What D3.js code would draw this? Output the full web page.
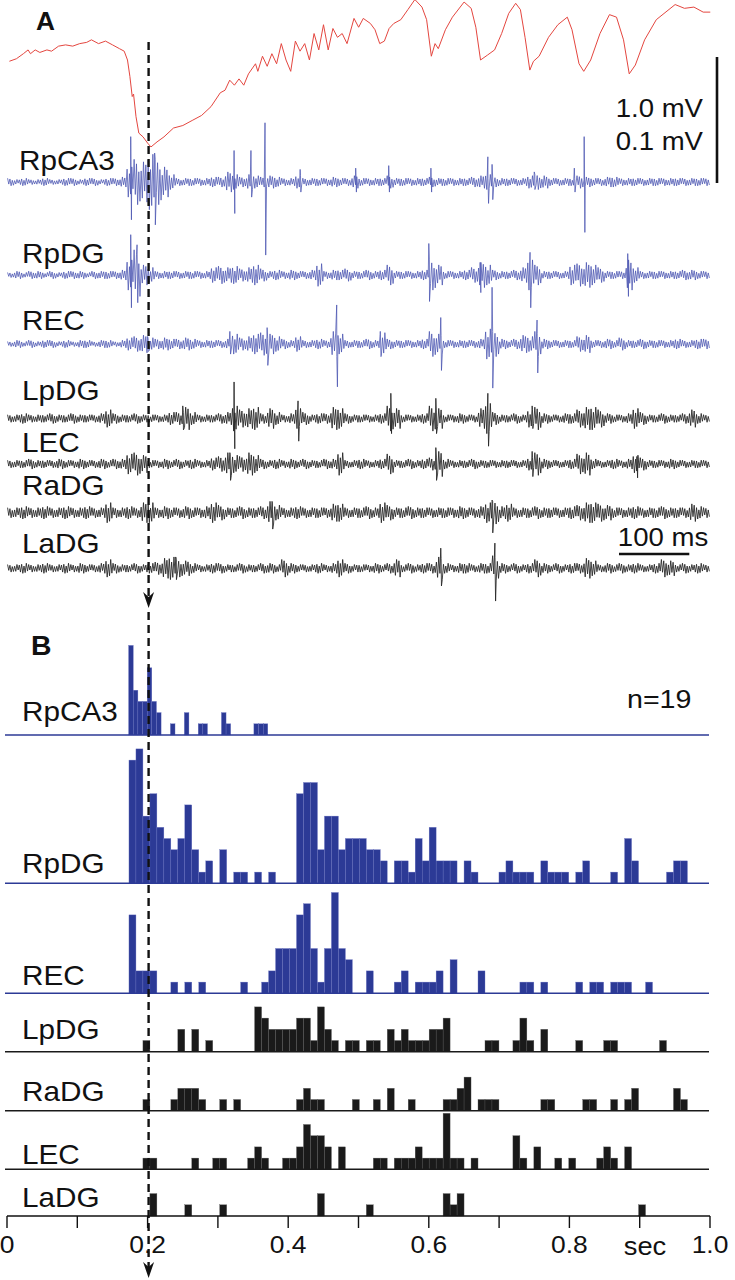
<!DOCTYPE html>
<html>
<head>
<meta charset="utf-8">
<script src="https://cdn.jsdelivr.net/npm/d3@7"></script>
<style>
  body { margin: 0; background: #fff; }
  text { font-family: "Liberation Sans", Arial, sans-serif; fill: #111; }
</style>
</head>
<body>
<svg id="fig" width="735" height="1280"></svg>
<script>
// ---- Panel A: intracellular trace (time ms, mV) ----
const redTrace = [
  [3.4,-0.01],[13.4,0.01],[23.3,0.05],[30.0,0.08],[33.4,0.05],[40.1,0.08],[46.7,0.06],[56.8,0.08],
  [63.4,0.07],[73.4,0.11],[83.4,0.12],[93.5,0.11],[103.4,0.13],[113.4,0.14],[120.1,0.16],[130.2,0.13],
  [140.1,0.15],[150.1,0.12],[160.0,0.09],[166.7,0.07],[171.4,0.00],[174.8,-0.13],[178.1,-0.29],[180.0,-0.27],
  [183.5,-0.45],[187.5,-0.58],[193.5,-0.61],[200.1,-0.66],[204.8,-0.69],[213.4,-0.65],[223.3,-0.61],[236.8,-0.54],
  [250.1,-0.52],[263.4,-0.48],[276.8,-0.44],[290.2,-0.37],[303.4,-0.26],[310.1,-0.24],[316.8,-0.16],[323.5,-0.20],
  [330.0,-0.15],[336.8,-0.20],[343.5,-0.11],[353.5,-0.03],[356.8,-0.09],[363.4,0.03],[370.1,-0.05],[376.8,0.05],
  [383.5,-0.03],[390.2,0.13],[396.9,0.00],[403.6,-0.09],[410.2,0.15],[416.8,0.07],[423.5,0.13],[430.2,0.00],
  [436.8,0.21],[443.5,0.08],[450.2,0.28],[456.9,0.08],[463.6,0.25],[470.1,0.18],[476.8,0.21],[483.7,0.13],
  [493.6,0.33],[500.2,0.26],[506.8,0.33],[516.9,0.29],[523.5,0.24],[530.2,0.13],[536.8,0.15],[543.5,0.25],
  [550.2,0.29],[560.2,0.32],[570.3,0.40],[580.2,0.48],[590.3,0.42],[596.9,0.32],[603.6,0.03],[608.9,0.13],
  [613.5,0.09],[623.6,0.24],[633.6,0.34],[650.2,0.46],[660.3,0.41],[666.9,0.26],[673.6,0.00],[683.7,0.04],
  [693.6,0.08],[703.6,0.21],[713.7,0.37],[723.6,0.45],[730.3,0.40],[736.9,0.18],[743.7,-0.08],[748.9,-0.01],
  [756.9,0.03],[770.3,0.18],[783.6,0.28],[797.0,0.34],[803.7,0.24],[813.7,-0.03],[820.4,-0.09],[830.3,0.00],
  [843.5,0.21],[857.0,0.36],[867.0,0.34],[877.0,0.16],[885.1,-0.11],[893.8,-0.04],[907.0,0.16],[923.6,0.32],
  [950.4,0.44],[963.7,0.41],[977.1,0.42],[990.3,0.38],[1000.4,0.38]
];

// ---- Panel A: field potentials, envelope per 10 ms bin (uV) ----
const rpca3Env = [3,2,3,2,2,3,2,2,3,3, 2,3,3,2,3,3,4,12,18,16, 22,18,12,6,3,3,3,3,3,4, 4,8,6,4,6,5,4,5,4,3,
  3,5,3,3,3,3,4,3,3,5, 3,3,3,3,5,3,3,3,3,3, 4,3,3,3,3,3,4,5,6,4, 3,3,3,3,5,6,5,3,3,3, 3,5,4,3,3,4,4,3,3,3, 3,3,3,3,3,3,3,3,3,3];
const rpdgEnv = [2,3,2,3,3,2,3,2,3,3, 3,2,3,3,3,3,4,12,20,8, 6,3,3,3,3,3,3,3,3,6, 7,6,7,5,6,8,5,3,4,3,
  4,3,3,4,9,3,4,4,5,3, 3,4,3,4,8,3,3,3,3,4, 12,8,3,3,3,4,6,10,8,4, 3,3,4,6,12,8,3,3,3,3, 8,9,10,8,6,3,3,3,12,6, 3,3,3,3,3,3,4,4,3,3];
const recEnv = [2,3,2,3,2,3,3,2,3,2, 3,3,2,3,3,2,3,5,6,7, 5,4,5,4,4,5,4,3,3,3, 3,4,8,5,6,8,9,8,6,4,
  3,6,3,3,4,3,10,8,3,3, 3,4,3,9,4,3,3,3,3,4, 10,8,3,3,3,3,3,4,12,10, 4,3,4,7,6,10,4,3,3,3, 3,6,7,3,3,4,3,5,3,3, 4,3,3,3,3,4,3,3,4,4];
const lpdgEnv = [3,3,4,3,3,3,4,3,3,4, 3,3,3,4,7,4,3,3,4,3, 3,3,3,5,5,9,5,3,3,3, 4,5,10,7,8,9,4,8,5,3,
  4,8,5,3,4,4,9,8,4,3, 3,3,3,4,10,8,3,3,3,4, 10,8,3,3,4,3,3,8,12,5, 3,3,4,3,7,9,4,3,3,4, 4,7,9,9,7,4,3,3,4,8, 5,3,3,4,3,3,4,7,4,3];
const lecEnv = [3,3,3,4,3,3,3,4,3,3, 4,3,3,4,3,4,4,8,9,7, 3,3,4,3,4,3,4,3,3,5, 6,9,7,6,9,7,4,3,4,3,
  4,3,4,3,3,4,4,9,3,3, 4,3,3,4,8,3,3,4,3,4, 5,10,4,3,3,3,4,3,3,3, 3,3,3,3,5,9,4,3,3,3, 4,8,9,4,3,3,4,3,4,7, 5,3,3,3,4,3,3,3,3,3];
const radgEnv = [4,4,5,4,4,5,4,4,5,4, 4,5,4,4,8,4,4,5,4,8, 8,4,5,4,4,5,4,4,5,8, 6,4,4,5,4,4,5,9,6,4,
  4,5,4,4,4,4,7,7,4,4, 4,5,4,8,6,4,4,5,4,4, 4,4,4,4,5,4,4,5,8,9, 5,7,4,4,4,5,4,4,4,4, 5,6,8,8,7,6,4,4,4,5, 4,4,4,5,4,4,4,7,5,4];
const ladgEnv = [3,3,4,3,3,4,3,3,4,3, 4,3,3,4,7,4,3,3,4,3, 4,5,8,9,7,6,4,3,3,4, 4,3,3,4,3,3,4,4,3,7,
  4,3,3,3,4,3,4,7,4,3, 3,3,4,3,4,7,3,4,3,4, 4,9,4,3,4,4,3,4,4,10, 4,3,4,3,4,7,4,3,4,3, 4,4,8,6,3,4,3,4,3,4, 3,3,4,7,6,3,4,3,4,3];

// large transients: [time ms, up uV, down uV]
const rpca3Spikes = [[176,36,30],[210,23,34],[323,25,25],[347,25,12],[367,47,58],[417,10,8],[496,11,8],[543,13,8],
  [603,11,8],[684,20,17],[690,14,14],[750,8,6],[807,11,8],[821,36,40]];
const rpdgSpikes = [[176,32,26],[185,24,22],[600,25,21],[673,10,14],[744,18,26],[883,17,17]];
const recSpikes = [[200,6,6],[317,10,8],[370,13,17],[469,31,34],[531,10,10],[617,21,21],[690,45,35],[754,19,23]];
const lpdgSpikes = [[250,10,9],[323,29,24],[414,14,18],[546,20,12],[610,16,12],[684,20,22],[747,10,8]];
const lecSpikes = [[317,9,13],[610,13,13],[747,10,10],[896,6,11]];
const radgSpikes = [[377,9,13],[690,10,16]];
const ladgSpikes = [[240,9,9],[617,16,14],[694,20,26]];

// ---- Panel B: histogram counts ----
const rpca3Counts = [8,4,3,3,6,3,2,0,0,1, 0,0,2,0,0,1,1,0,0,0, 2,1,0,0,0,0,0,1,1,1];
const rpdgCounts = [11,12,6,8,5,4,3,4,7,3, 1,2,0,3,0,1,1,0,1,0, 1,0,0,0,8,9,9,3,6,6, 3,4,4,4,3,3,2,0,2,2,
  1,4,2,5,2,2,2,0,2,1, 0,0,0,1,2,1,1,1,0,2, 1,1,1,0,1,2,0,0,0,1, 0,4,2,0,0,0,0,1,2,2];
const recCounts = [7,2,2,2,0,0,1,0,1,0, 1,0,0,0,0,0,1,0,0,1, 2,4,4,4,7,8,4,1,4,9, 4,3,0,0,2,0,0,0,1,2,
  0,1,1,1,2,0,3,0,0,0, 2,0,0,0,0,0,1,1,0,1, 0,0,0,0,1,0,1,1,0,1, 1,1,0,0,1];
const lpdgCounts = [0,0,1,0,0,0,0,2,0,2, 0,1,0,0,0,0,0,0,4,3, 2,2,2,2,3,3,1,4,2,1, 0,1,1,0,1,1,0,2,1,2,
  1,1,1,2,2,3,0,0,0,0, 0,1,1,0,0,1,3,1,0,2, 0,0,0,0,1,0,0,0,1,1, 0,0,0,0,0,0,1];
const radgCounts = [0,0,1,0,0,0,1,2,2,2, 1,0,0,1,0,1,0,0,0,0, 0,0,0,0,1,2,1,1,0,0, 0,0,1,0,0,1,0,2,0,0,
  1,0,0,0,0,1,1,2,3,0, 1,1,1,0,0,0,0,0,0,1, 1,0,0,0,0,1,1,0,0,1, 0,1,2,0,0,0,0,0,2,1];
const lecCounts = [0,0,1,1,0,0,0,0,0,1, 0,0,1,1,0,0,0,1,2,1, 0,0,1,1,2,4,3,3,2,0, 2,0,0,0,0,1,1,0,1,1,
  1,2,1,1,1,5,1,1,0,1, 0,0,0,0,0,3,1,0,2,0, 0,1,0,1,0,0,0,1,2,1, 0,2];
const ladgCounts = [0,0,0,2,0,0,0,0,1,0, 0,0,0,1,0,0,0,0,0,0, 0,0,0,0,0,0,0,2,0,0, 0,0,0,0,1,0,0,0,0,0,
  0,0,0,0,0,2,1,2,0,0, 0,0,0,0,0,0,0,0,0,0, 0,0,0,0,0,0,0,0,0,0, 0,0,0,1];

const axisTicks = [0, 0.1, 0.2, 0.3, 0.4, 0.5, 0.6, 0.7, 0.8, 0.9, 1.0];
const axisLabels = ['0', '0.2', '0.4', '0.6', '0.8', '1.0'];

// colours
const histBlue = '#2c3a96';
const traceBlue = '#4853b0';
const traceBlack = '#222';
const red = '#e4463f';

// uneven stroke weights so the zig-zag reads as noise rather than a sine
const zigWeights = [1, 0.55, 0.8, 1, 0.45, 0.85];

const svg = d3.select('#fig');
const x = d3.scaleLinear().domain([0, 1]).range([7, 710]);
const uv = d3.scaleLinear().domain([0, 100]).range([0, 126]);   // 0.1 mV scale bar
const redY = d3.scaleLinear().domain([0, 1]).range([60, -66]);    // 1.0 mV scale bar
const countH = d3.scaleLinear().domain([0, 1]).range([0, 11.2]);

// text with the slightly wide lettering of the original
function label(g, txt, px, py, size, opts = {}) {
    return g.append('text')
        .attr('transform', `translate(${px},${py}) scale(${opts.sx || 1.1},1)`)
        .attr('font-size', size)
        .attr('font-weight', opts.bold ? 'bold' : 'normal')
        .attr('text-anchor', opts.anchor || 'start')
        .text(txt);
}

// ---------- Panel A ----------
const panelA = svg.append('g').attr('id', 'panelA');
label(panelA, 'A', 36, 30, 25, { bold: true, sx: 1.05 });

panelA.append('path')
    .datum(redTrace)
    .attr('fill', 'none')
    .attr('stroke', red)
    .attr('stroke-width', 1)
    .attr('d', d3.line().x(d => x(d[0] / 1000)).y(d => redY(d[1])));

const traces = [
    { name: 'RpCA3', env: rpca3Env, spikes: rpca3Spikes, y0: 182, ly: 170, lx: 19, color: traceBlue },
    { name: 'RpDG', env: rpdgEnv, spikes: rpdgSpikes, y0: 275, ly: 263, lx: 22, color: traceBlue },
    { name: 'REC', env: recEnv, spikes: recSpikes, y0: 344, ly: 330, lx: 22, color: traceBlue },
    { name: 'LpDG', env: lpdgEnv, spikes: lpdgSpikes, y0: 418.5, ly: 400, lx: 22, color: traceBlack },
    { name: 'LEC', env: lecEnv, spikes: lecSpikes, y0: 464, ly: 452, lx: 22, color: traceBlack },
    { name: 'RaDG', env: radgEnv, spikes: radgSpikes, y0: 512.7, ly: 495, lx: 22, color: traceBlack },
    { name: 'LaDG', env: ladgEnv, spikes: ladgSpikes, y0: 568.3, ly: 553, lx: 22, color: traceBlack }
];

traces.forEach(tr => {
    // zig-zag through the envelope of each 10 ms bin, spikes inserted in time order
    const n = zigWeights.length;
    const pts = [];
    tr.env.forEach((a, i) => {
        for (let j = 0; j < n; j++) {
            const w = zigWeights[(j + i) % n];
            pts.push([i * 10 + (j + 0.5) * 10 / n, (j % 2 ? -a : a) * w]);
        }
    });
    tr.spikes.forEach(s => {
        pts.push([s[0], s[1]]);
        pts.push([s[0] + 1, -s[2]]);
    });
    pts.sort((a, b) => a[0] - b[0]);

    panelA.append('path')
        .datum(pts)
        .attr('fill', 'none')
        .attr('stroke', tr.color)
        .attr('stroke-width', tr.color === traceBlack ? 0.85 : 0.75)
        .attr('stroke-linejoin', 'round')
        .attr('d', d3.line().x(d => x(d[0] / 1000)).y(d => tr.y0 - uv(d[1])));

    label(panelA, tr.name, tr.lx, tr.ly, 27);
});

// scale bars
panelA.append('line')
    .attr('x1', 717).attr('x2', 717)
    .attr('y1', 57).attr('y2', 57 + uv(100))
    .attr('stroke', '#111').attr('stroke-width', 2.6);
label(panelA, '1.0 mV', 703, 117, 26, { anchor: 'end', sx: 1.06 });
label(panelA, '0.1 mV', 703, 150, 26, { anchor: 'end', sx: 1.06 });

panelA.append('line')
    .attr('x1', 619).attr('x2', 619 + x(0.1) - x(0))
    .attr('y1', 554).attr('y2', 554)
    .attr('stroke', '#111').attr('stroke-width', 2.6);
label(panelA, '100 ms', 663, 546, 26, { anchor: 'middle', sx: 1.06 });

// ---------- Panel B ----------
const panelB = svg.append('g').attr('id', 'panelB');
label(panelB, 'B', 31, 655, 27, { bold: true, sx: 1.05 });
label(panelB, 'n=19', 627, 708, 26);

const hists = [
    { name: 'RpCA3', counts: rpca3Counts, start: 0.173, width: 0.0066, base: 735, ly: 721, color: histBlue },
    { name: 'RpDG', counts: rpdgCounts, start: 0.1735, width: 0.00993, base: 883.3, ly: 873, color: histBlue },
    { name: 'REC', counts: recCounts, start: 0.1735, width: 0.00993, base: 993.3, ly: 985, color: histBlue },
    { name: 'LpDG', counts: lpdgCounts, start: 0.1735, width: 0.00993, base: 1051.7, ly: 1039, color: '#1a1a1a' },
    { name: 'RaDG', counts: radgCounts, start: 0.1735, width: 0.00993, base: 1110.7, ly: 1101, color: '#1a1a1a' },
    { name: 'LEC', counts: lecCounts, start: 0.1735, width: 0.00993, base: 1169.3, ly: 1164, color: '#1a1a1a' },
    { name: 'LaDG', counts: ladgCounts, start: 0.1735, width: 0.00993, base: 1216, ly: 1207, color: '#1a1a1a' }
];

hists.forEach(h => {
    const g = panelB.append('g').attr('class', 'hist');
    const bins = h.counts.map((c, k) => ({ t: h.start + k * h.width, c })).filter(d => d.c > 0);
    g.selectAll('rect')
        .data(bins)
        .join('rect')
        .attr('x', d => x(d.t))
        .attr('width', x(h.width) - x(0))
        .attr('y', d => h.base - countH(d.c))
        .attr('height', d => countH(d.c))
        .attr('fill', h.color)
        .attr('stroke', h.color === histBlue ? '#6a73c2' : '#5a5a5a')
        .attr('stroke-width', 0.35);

    if (h.name !== 'LaDG') {
        g.append('line')
            .attr('x1', 5).attr('x2', 709)
            .attr('y1', h.base).attr('y2', h.base)
            .attr('stroke', h.color).attr('stroke-width', 1.4);
    }
    label(g, h.name, 22, h.ly, 27);
});

// time axis under the last histogram
const axis = panelB.append('g').attr('transform', 'translate(0,1216)');
axis.append('line')
    .attr('x1', x(0)).attr('x2', x(1))
    .attr('stroke', '#111').attr('stroke-width', 1.4);
axis.selectAll('line.tick')
    .data(axisTicks)
    .join('line')
    .attr('class', 'tick')
    .attr('x1', d => x(d)).attr('x2', d => x(d))
    .attr('y1', 0).attr('y2', 12)
    .attr('stroke', '#111').attr('stroke-width', 1.4);
axis.selectAll('g.lab')
    .data(axisLabels)
    .join('g')
    .attr('class', 'lab')
    .each(function (d) { label(d3.select(this), d, x(+d), 37, 24, { anchor: 'middle' }); });
label(axis, 'sec', 645, 39, 26, { anchor: 'middle', sx: 1.05 });

// ---------- dashed marker at 0.2 s ----------
const xd = x(0.2) + 1;
const marker = svg.append('g').attr('id', 'marker');
marker.append('line')
    .attr('x1', xd).attr('x2', xd).attr('y1', 42).attr('y2', 598)
    .attr('stroke', '#111').attr('stroke-width', 2.4).attr('stroke-dasharray', '8,5');
marker.append('line')
    .attr('x1', xd).attr('x2', xd).attr('y1', 612).attr('y2', 1268)
    .attr('stroke', '#111').attr('stroke-width', 2.4).attr('stroke-dasharray', '8,5');
[608, 1278].forEach(tip => {
    marker.append('path')
        .attr('d', `M${xd - 5.5},${tip - 16} L${xd},${tip} L${xd + 5.5},${tip - 16} L${xd},${tip - 11} Z`)
        .attr('fill', '#111');
});
</script>
</body>
</html>
